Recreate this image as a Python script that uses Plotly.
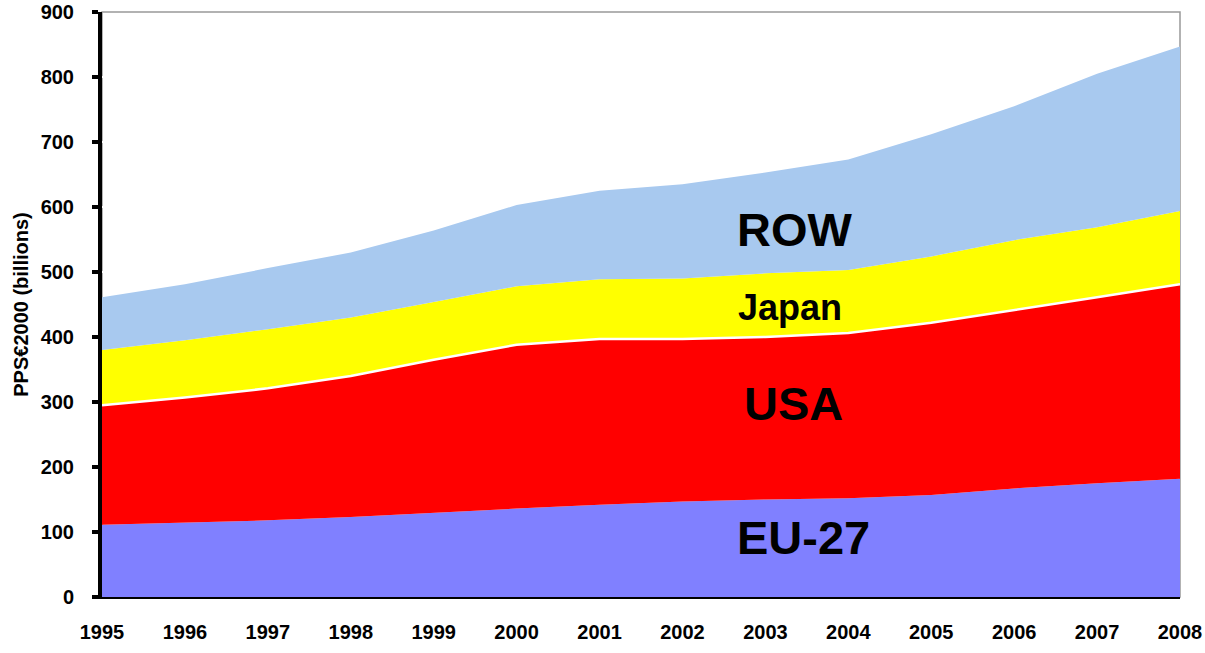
import plotly.graph_objects as go

years = list(range(1995, 2009))
eu27 = [111, 114, 118, 123, 130, 136, 142, 147, 150, 152, 157, 167, 175, 182]
usa = [184, 193, 203, 217, 235, 252, 255, 250, 250, 254, 265, 274, 286, 299]
japan = [85, 88, 91, 90, 89, 90, 92, 93, 98, 97, 102, 108, 108, 113]
row = [81, 86, 94, 100, 110, 125, 136, 145, 155, 170, 188, 206, 236, 253]

series = [
    ("EU-27", eu27, "#8080FF"),
    ("USA", usa, "#FF0000"),
    ("Japan", japan, "#FFFF00"),
    ("ROW", row, "#A8C9EF"),
]

FONT = "Arial, 'Liberation Sans', sans-serif"

fig = go.Figure()
for name, vals, color in series:
    line = dict(width=0, color=color)
    if name == "USA":
        line = dict(width=2.5, color="white")
    fig.add_trace(go.Scatter(
        x=years, y=vals, name=name, mode="lines",
        stackgroup="one", fillcolor=color, line=line,
        hoverinfo="x+y+name",
    ))

labels = [("ROW", 2003.36, 565, 47), ("Japan", 2003.30, 446, 36),
          ("USA", 2003.34, 297, 47), ("EU-27", 2003.46, 91, 47)]
for text, x, y, size in labels:
    fig.add_annotation(x=x, y=y, text=f"<b>{text}</b>", showarrow=False,
                       font=dict(family=FONT, size=size, color="black"),
                       xanchor="center", yanchor="middle")

# gray frame (top and right)
fig.add_shape(type="rect", xref="paper", yref="paper", x0=0, y0=0, x1=1, y1=1,
              line=dict(color="#999999", width=1.5), layer="below")

fig.update_layout(
    width=1205, height=653,
    margin=dict(l=102, r=25, t=12, b=56),
    paper_bgcolor="white", plot_bgcolor="white",
    showlegend=False,
    font=dict(family=FONT, color="black"),
    xaxis=dict(
        range=[1995, 2008], tickmode="array", tickvals=years,
        ticktext=[str(y) for y in years],
        tickfont=dict(family=FONT, size=20, color="black", weight="bold"),
        showgrid=False, zeroline=False,
        showline=True, linecolor="black", linewidth=1.5,
        ticks="", ticklabelstandoff=16, automargin=False,
    ),
    yaxis=dict(
        range=[0, 900], tickmode="array", tickvals=list(range(0, 901, 100)),
        tickfont=dict(family=FONT, size=20, color="black", weight="bold"),
        showgrid=True, gridcolor="white", gridwidth=2,
        zeroline=False,
        showline=True, linecolor="black", linewidth=4,
        ticks="outside", ticklen=6, tickwidth=4, tickcolor="black",
        ticklabelstandoff=14, automargin=False,
        title=dict(text="<b>PPS€2000 (billions)</b>",
                   font=dict(family=FONT, size=20, color="black"), standoff=8),
    ),
)

fig.write_html("out.html", config={"displayModeBar": False},
               post_script="document.body.style.margin='0';")
